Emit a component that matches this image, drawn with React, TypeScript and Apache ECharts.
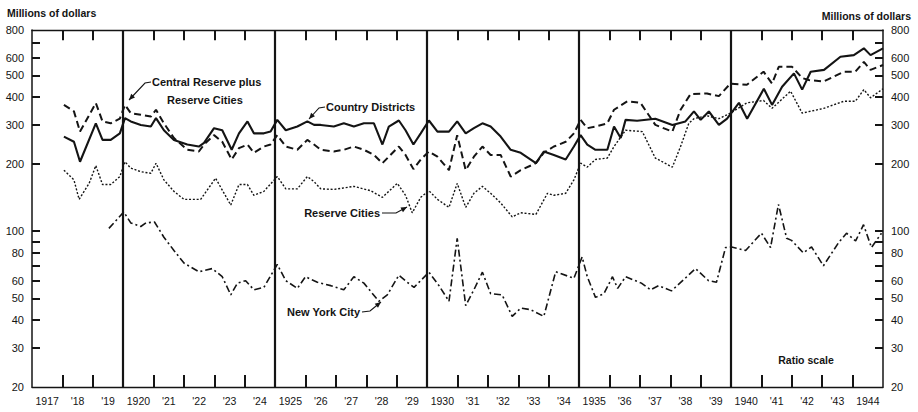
import React, { useEffect, useRef } from "react";
import * as echarts from "echarts";

// ---- Axis data ----
const yearStarts = [
  1917, 1918, 1919, 1920, 1921, 1922, 1923, 1924, 1925, 1926, 1927, 1928, 1929, 1930,
  1931, 1932, 1933, 1934, 1935, 1936, 1937, 1938, 1939, 1940, 1941, 1942, 1943, 1944,
];
const yearLabels = [
  "1917", "'18", "'19", "1920", "'21", "'22", "'23", "'24", "1925", "'26", "'27", "'28", "'29", "1930",
  "'31", "'32", "'33", "'34", "1935", "'36", "'37", "'38", "'39", "1940", "'41", "'42", "'43", "1944",
];
const decadeLines = [1920, 1925, 1930, 1935, 1940];
const yTickValues = [30, 40, 50, 60, 70, 80, 90, 100, 200, 300, 400, 500, 600, 700];
const yLabelValues = [20, 30, 40, 50, 60, 80, 100, 200, 300, 400, 500, 600, 800];

// ---- Series data: [year, millions of dollars] ----
const countryDistricts: [number, number][] = [
  [1918.05, 266], [1918.38, 252], [1918.58, 205], [1919.1, 305], [1919.32, 257], [1919.59, 257],
  [1919.89, 275], [1920.06, 322], [1920.25, 311], [1920.58, 300], [1920.91, 295], [1921.08, 322],
  [1921.34, 284], [1921.67, 257], [1922.11, 245], [1922.49, 240], [1922.66, 249], [1922.99, 290],
  [1923.26, 284], [1923.57, 232], [1923.81, 275], [1924.09, 311], [1924.3, 275], [1924.63, 275],
  [1924.85, 280], [1925.07, 316], [1925.35, 284], [1925.73, 295], [1926.06, 311], [1926.28, 300],
  [1926.5, 300], [1926.93, 295], [1927.26, 305], [1927.59, 295], [1927.92, 305], [1928.25, 305],
  [1928.53, 245], [1928.74, 295], [1929.07, 314], [1929.29, 284], [1929.55, 245], [1929.79, 275],
  [1930.06, 314], [1930.34, 280], [1930.72, 280], [1930.99, 311], [1931.27, 275], [1931.54, 290],
  [1931.82, 305], [1932.09, 295], [1932.42, 266], [1932.75, 232], [1933.08, 225], [1933.58, 202],
  [1933.84, 228], [1934.17, 220], [1934.56, 210], [1934.83, 240], [1935.05, 270], [1935.27, 245],
  [1935.54, 232], [1935.93, 232], [1936.15, 295], [1936.37, 262], [1936.53, 316], [1936.91, 313],
  [1937.51, 320], [1938.07, 300], [1938.5, 311], [1938.78, 345], [1939.0, 316], [1939.27, 345],
  [1939.6, 300], [1939.87, 320], [1940.26, 377], [1940.53, 320], [1941.08, 436], [1941.35, 369],
  [1941.68, 445], [1942.07, 511], [1942.34, 432], [1942.62, 520], [1943.06, 530], [1943.6, 607],
  [1944.04, 617], [1944.37, 662], [1944.59, 617], [1945.0, 662],
];

const centralReservePlusReserveCities: [number, number][] = [
  [1918.05, 369], [1918.38, 345], [1918.58, 280], [1919.1, 376], [1919.32, 311], [1919.59, 305],
  [1919.89, 320], [1920.06, 369], [1920.25, 339], [1920.58, 333], [1920.91, 327], [1921.08, 351],
  [1921.34, 305], [1921.67, 262], [1922.11, 232], [1922.49, 228], [1922.66, 245], [1922.99, 270],
  [1923.26, 252], [1923.57, 210], [1923.81, 236], [1924.09, 245], [1924.3, 225], [1924.63, 240],
  [1924.85, 245], [1925.07, 270], [1925.35, 240], [1925.73, 232], [1926.06, 257], [1926.28, 245],
  [1926.5, 232], [1926.93, 228], [1927.26, 232], [1927.59, 240], [1927.92, 232], [1928.25, 220],
  [1928.53, 202], [1928.74, 216], [1929.07, 240], [1929.29, 220], [1929.55, 190], [1929.79, 210],
  [1930.06, 228], [1930.34, 216], [1930.72, 188], [1930.99, 270], [1931.27, 188], [1931.54, 216],
  [1931.82, 240], [1932.09, 220], [1932.42, 220], [1932.75, 176], [1933.08, 188], [1933.58, 202],
  [1933.84, 225], [1934.17, 240], [1934.56, 252], [1934.83, 275], [1935.05, 316], [1935.27, 290],
  [1935.54, 295], [1935.93, 305], [1936.15, 351], [1936.59, 383], [1937.02, 377], [1937.51, 300],
  [1938.07, 280], [1938.34, 351], [1938.67, 413], [1939.21, 415], [1939.6, 404], [1939.98, 460],
  [1940.52, 454], [1941.07, 520], [1941.35, 460], [1941.57, 547], [1942.01, 547], [1942.34, 487],
  [1942.56, 477], [1943.05, 470], [1943.71, 520], [1944.09, 520], [1944.37, 575], [1944.59, 530],
  [1945.0, 557],
];

const reserveCities: [number, number][] = [
  [1918.05, 188], [1918.38, 170], [1918.55, 139], [1918.88, 164], [1919.1, 197], [1919.32, 162],
  [1919.59, 162], [1919.89, 176], [1920.06, 205], [1920.25, 192], [1920.58, 185], [1920.91, 182],
  [1921.08, 202], [1921.34, 170], [1921.67, 151], [1922.0, 139], [1922.55, 139], [1923.04, 173],
  [1923.54, 131], [1923.81, 162], [1924.09, 162], [1924.3, 145], [1924.63, 151], [1925.07, 176],
  [1925.35, 155], [1925.73, 155], [1926.06, 176], [1926.28, 167], [1926.5, 155], [1926.93, 154],
  [1927.59, 159], [1928.14, 152], [1928.53, 142], [1929.02, 164], [1929.29, 145], [1929.51, 121],
  [1929.79, 142], [1930.06, 152], [1930.34, 139], [1930.72, 128], [1930.99, 164], [1931.27, 128],
  [1931.54, 148], [1931.82, 159], [1932.09, 148], [1932.42, 134], [1932.8, 116], [1933.08, 121],
  [1933.58, 119], [1933.96, 148], [1934.17, 145], [1934.56, 148], [1934.83, 170], [1935.05, 202],
  [1935.27, 194], [1935.54, 210], [1935.93, 213], [1936.15, 240], [1936.53, 284], [1937.08, 280],
  [1937.51, 213], [1938.07, 194], [1938.34, 240], [1938.61, 305], [1938.78, 320], [1939.2, 330],
  [1939.6, 320], [1939.98, 339], [1940.52, 377], [1941.07, 386], [1941.35, 356], [1941.96, 425],
  [1942.34, 339], [1943.05, 356], [1943.71, 383], [1944.09, 383], [1944.37, 432], [1944.59, 397],
  [1945.0, 436],
];

const newYorkCity: [number, number][] = [
  [1919.53, 103], [1920.02, 122], [1920.25, 109], [1920.58, 105], [1920.75, 109], [1921.03, 110],
  [1921.34, 94], [1921.67, 82], [1922.0, 72], [1922.49, 65.8], [1922.93, 68], [1923.26, 62.5],
  [1923.54, 51.8], [1923.76, 58.5], [1924.03, 60], [1924.3, 54.6], [1924.63, 56], [1925.07, 71],
  [1925.35, 60], [1925.73, 55.4], [1926.0, 62.5], [1926.39, 59], [1926.83, 57], [1927.26, 54.6],
  [1927.59, 62.5], [1927.92, 58.5], [1928.41, 48.5], [1928.69, 51.8], [1929.07, 63.5], [1929.35, 59],
  [1929.57, 56], [1930.06, 65.5], [1930.39, 57], [1930.72, 48.5], [1930.99, 93], [1931.27, 46.4],
  [1931.54, 54.6], [1931.82, 65.5], [1932.09, 52.5], [1932.47, 51.8], [1932.8, 41.5], [1933.08, 45.2],
  [1933.4, 44.5], [1933.84, 41.5], [1934.23, 65.8], [1934.83, 61.5], [1935.1, 76.7], [1935.27, 62.5],
  [1935.54, 50.5], [1935.82, 52.5], [1936.1, 62.5], [1936.27, 55.4], [1936.53, 62.5], [1937.05, 58.5],
  [1937.35, 54.6], [1937.62, 57], [1938.04, 54], [1938.6, 63.5], [1938.83, 68], [1939.26, 60],
  [1939.52, 59], [1939.82, 84.5], [1940.02, 85], [1940.48, 82], [1941.0, 98], [1941.3, 84.5],
  [1941.56, 132], [1941.83, 93], [1941.99, 91], [1942.38, 80], [1942.65, 85], [1943.04, 70],
  [1943.54, 89], [1943.8, 98], [1944.1, 90.5], [1944.36, 107], [1944.62, 84.5], [1944.95, 98],
];

const INK = "#141414";
const FONT = "'Liberation Sans', Arial, 'DejaVu Sans', sans-serif";

function toLog(pts: [number, number][]) {
  return pts.map(([x, v]) => [x, Math.log10(v)]);
}

function arrow(points: number[][]) {
  const n = points.length;
  const [x1, y1] = points[n - 2];
  const [x2, y2] = points[n - 1];
  const dx = x2 - x1;
  const dy = y2 - y1;
  const len = Math.sqrt(dx * dx + dy * dy);
  const ux = dx / len;
  const uy = dy / len;
  const bx = x2 - ux * 6;
  const by = y2 - uy * 6;
  const px = -uy * 2.6;
  const py = ux * 2.6;
  return [
    { type: "polyline", silent: true, shape: { points }, style: { stroke: INK, lineWidth: 1.1, fill: null } },
    {
      type: "polygon",
      silent: true,
      shape: { points: [[x2, y2], [bx + px, by + py], [bx - px, by - py]] },
      style: { fill: INK },
    },
  ];
}

function label(text: string, x: number, y: number, align: string = "left", size = 11) {
  return {
    type: "text",
    silent: true,
    x,
    y,
    style: {
      text,
      fill: INK,
      font: `bold ${size}px ${FONT}`,
      textAlign: align,
      textVerticalAlign: "middle",
    },
  };
}

export default function App() {
  const ref = useRef<HTMLDivElement>(null);

  useEffect(() => {
    if (!ref.current) return;
    const chart = echarts.init(ref.current, undefined, { renderer: "svg" });
    const X0 = 1917;
    const X1 = 1945;
    const yMin = Math.log10(20);
    const yMax = Math.log10(800);
    const yFmt = (v: number) => String(Math.round(Math.pow(10, v)));
    // tick lengths expressed in axis units (about 12 px vertically, 8 px horizontally)
    const dyTick = ((yMax - yMin) * 12) / 357;
    const dxTick = ((X1 - X0) * 8) / 851;

    const baseX = {
      type: "value",
      min: X0,
      max: X1,
      interval: 1,
      splitLine: { show: false },
      axisTick: { show: false },
      axisLine: { show: true, onZero: false, lineStyle: { color: INK, width: 1.3 } },
    };
    const baseY = {
      type: "value",
      min: yMin,
      max: yMax,
      splitLine: { show: false },
      axisLine: { show: true, onZero: false, lineStyle: { color: INK, width: 1.5 } },
      axisTick: { show: false },
      axisLabel: {
        customValues: yLabelValues.map((v) => Math.log10(v)),
        formatter: yFmt,
        color: INK,
        fontSize: 11,
        fontFamily: FONT,
        margin: 8,
      },
    };

    const seriesBase = {
      type: "line",
      symbol: "none",
      showSymbol: false,
      silent: true,
      xAxisIndex: 0,
      yAxisIndex: 0,
    };

    const tickMarkBase = {
      silent: true,
      symbol: ["none", "none"],
      label: { show: false },
      lineStyle: { color: INK, width: 2, type: "solid" },
    };

    const yearTickSegments: any[] = [];
    yearStarts.slice(1).forEach((y) => {
      yearTickSegments.push([{ coord: [y, yMin] }, { coord: [y, yMin + dyTick] }]);
      yearTickSegments.push([{ coord: [y, yMax] }, { coord: [y, yMax - dyTick * 0.85] }]);
    });
    const ratioTickSegments: any[] = [];
    yTickValues.forEach((v) => {
      const ly = Math.log10(v);
      ratioTickSegments.push([{ coord: [X0, ly] }, { coord: [X0 + dxTick, ly] }]);
      ratioTickSegments.push([{ coord: [X1, ly] }, { coord: [X1 - dxTick, ly] }]);
    });

    chart.setOption({
      animation: false,
      backgroundColor: "#ffffff",
      grid: { left: 32, right: 35, top: 30, bottom: 25, containLabel: false },
      xAxis: [
        {
          ...baseX,
          position: "bottom",
          axisLabel: {
            customValues: yearStarts.map((y) => y + 0.5),
            formatter: (v: number) => yearLabels[Math.floor(v) - 1917] ?? "",
            color: INK,
            fontSize: 10.5,
            fontFamily: FONT,
            margin: 8,
          },
        },
        { ...baseX, position: "top", axisLabel: { show: false } },
      ],
      yAxis: [
        { ...baseY, position: "left" },
        { ...baseY, position: "right" },
      ],
      series: [
        {
          ...seriesBase,
          name: "Country Districts",
          data: toLog(countryDistricts),
          lineStyle: { color: INK, width: 2.1, type: "solid" },
          markLine: {
            ...tickMarkBase,
            lineStyle: { color: INK, width: 2.2, type: "solid" },
            data: decadeLines.map((y) => ({ xAxis: y })),
          },
        },
        {
          ...seriesBase,
          name: "Central Reserve plus Reserve Cities",
          data: toLog(centralReservePlusReserveCities),
          lineStyle: { color: INK, width: 2, type: [7, 4] },
          markLine: { ...tickMarkBase, data: yearTickSegments },
        },
        {
          ...seriesBase,
          name: "Reserve Cities",
          data: toLog(reserveCities),
          lineStyle: { color: INK, width: 1.4, type: [2, 1.8] },
          markLine: { ...tickMarkBase, data: ratioTickSegments },
        },
        {
          ...seriesBase,
          name: "New York City",
          data: toLog(newYorkCity),
          lineStyle: { color: INK, width: 1.6, type: [7, 3, 2, 3] },
        },
      ],
      graphic: [
        label("Millions of dollars", 7, 13, "left", 10.5),
        label("Millions of dollars", 911, 16, "right", 10.5),
        label("Ratio scale", 806, 360, "center", 10.5),
        label("Central Reserve plus", 152, 82, "left"),
        label("Reserve Cities", 167, 100, "left"),
        label("Country Districts", 326, 107, "left"),
        label("Reserve Cities", 380, 213, "right"),
        label("New York City", 360, 312, "right"),
        ...arrow([[151, 82], [145, 83], [129, 100]]),
        ...arrow([[325, 107], [319, 108], [309, 119]]),
        ...arrow([[382, 213], [396, 213], [407, 207]]),
        ...arrow([[362, 312], [370, 311], [381, 302]]),
      ],
    });

    return () => chart.dispose();
  }, []);

  return (
    <div
      ref={ref}
      style={{ position: "fixed", left: 0, top: 0, width: 918, height: 412, background: "#fff" }}
    />
  );
}
